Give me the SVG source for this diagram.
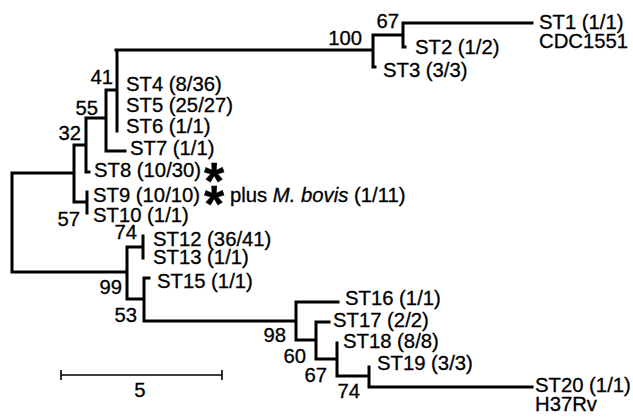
<svg xmlns="http://www.w3.org/2000/svg" width="633" height="417" viewBox="0 0 633 417">
<style>
text{font-family:"Liberation Sans",Arial,sans-serif;font-size:20.3px;fill:#000;stroke:#000;stroke-width:0.3}
.b{text-anchor:end}
.tree{fill:none;stroke:#000;stroke-width:3;stroke-linejoin:miter;stroke-linecap:square}
.scale{fill:none;stroke:#000;stroke-width:1.6}
.star{font-weight:bold;font-size:52px;text-anchor:middle}
</style>
<rect width="633" height="417" fill="#fff"/>
<g id="connectors">
<path class="tree" d="M116,50 H373 M373,35 V67 M373,35 H403 M403,23 V47 M403,23 H532 M403,47 H405 M373,67 H375
M117,50 V131 M106,90 H117 M106,90 V151 H125 M86,118 H106 M86,118 V172 H89
M74,145 H86 M74,145 V202 H87 M87,192 V213
M12,173 H74 M12,173 V272 H127 M127,247 V299 H144 M127,247 H143 M143,236 V258
M144,278 V321 M144,278 H149 M144,321 H296
M296,302 V340 M296,302 H338 M296,340 H316 M316,322 V359 M316,322 H329 M316,359 H337
M337,343 V376 M337,376 H369 M369,367 V387 M369,387 H532"/>
</g>
<g id="scalebar">
<path class="scale" d="M61,375 H222 M61,370 V380 M222,370 V380"/>
<text x="140" y="397" text-anchor="middle">5</text>
</g>
<g id="ST1"><text x="539" y="29">ST1 (1/1)</text><text x="539" y="48">CDC1551</text></g>
<g id="ST2"><text x="415" y="54">ST2 (1/2)</text></g>
<g id="ST3"><text x="383" y="77">ST3 (3/3)</text></g>
<g id="ST4"><text x="126" y="91">ST4 (8/36)</text></g>
<g id="ST5"><text x="126" y="112">ST5 (25/27)</text></g>
<g id="ST6"><text x="126" y="133">ST6 (1/1)</text></g>
<g id="ST7"><text x="130" y="155">ST7 (1/1)</text></g>
<g id="ST8"><text x="94" y="177">ST8 (10/30)</text><text class="star" x="214" y="198.5">*</text></g>
<g id="ST9"><text x="93" y="202">ST9 (10/10)</text><text class="star" x="214" y="221.5">*</text>
<text x="230" y="202">plus <tspan font-style="italic">M. bovis</tspan> (1/11)</text></g>
<g id="ST10"><text x="93" y="222">ST10 (1/1)</text></g>
<g id="ST12"><text x="153" y="246">ST12 (36/41)</text></g>
<g id="ST13"><text x="153" y="264">ST13 (1/1)</text></g>
<g id="ST15"><text x="157" y="288">ST15 (1/1)</text></g>
<g id="ST16"><text x="345" y="305">ST16 (1/1)</text></g>
<g id="ST17"><text x="333" y="327">ST17 (2/2)</text></g>
<g id="ST18"><text x="343" y="348">ST18 (8/8)</text></g>
<g id="ST19"><text x="377" y="370">ST19 (3/3)</text></g>
<g id="ST20"><text x="535" y="392">ST20 (1/1)</text><text x="535" y="411">H37Rv</text></g>
<g id="node100"><text class="b" x="362" y="45">100</text></g>
<g id="node67a"><text class="b" x="399" y="28">67</text></g>
<g id="node41"><text class="b" x="113" y="84">41</text></g>
<g id="node55"><text class="b" x="98" y="115">55</text></g>
<g id="node32"><text class="b" x="81" y="140">32</text></g>
<g id="node57"><text class="b" x="80" y="226">57</text></g>
<g id="node74a"><text class="b" x="137" y="239">74</text></g>
<g id="node99"><text class="b" x="122" y="294">99</text></g>
<g id="node53"><text class="b" x="137" y="322">53</text></g>
<g id="node98"><text class="b" x="286" y="342">98</text></g>
<g id="node60"><text class="b" x="306" y="363">60</text></g>
<g id="node67b"><text class="b" x="327" y="382">67</text></g>
<g id="node74b"><text class="b" x="360" y="398">74</text></g>
</svg>
